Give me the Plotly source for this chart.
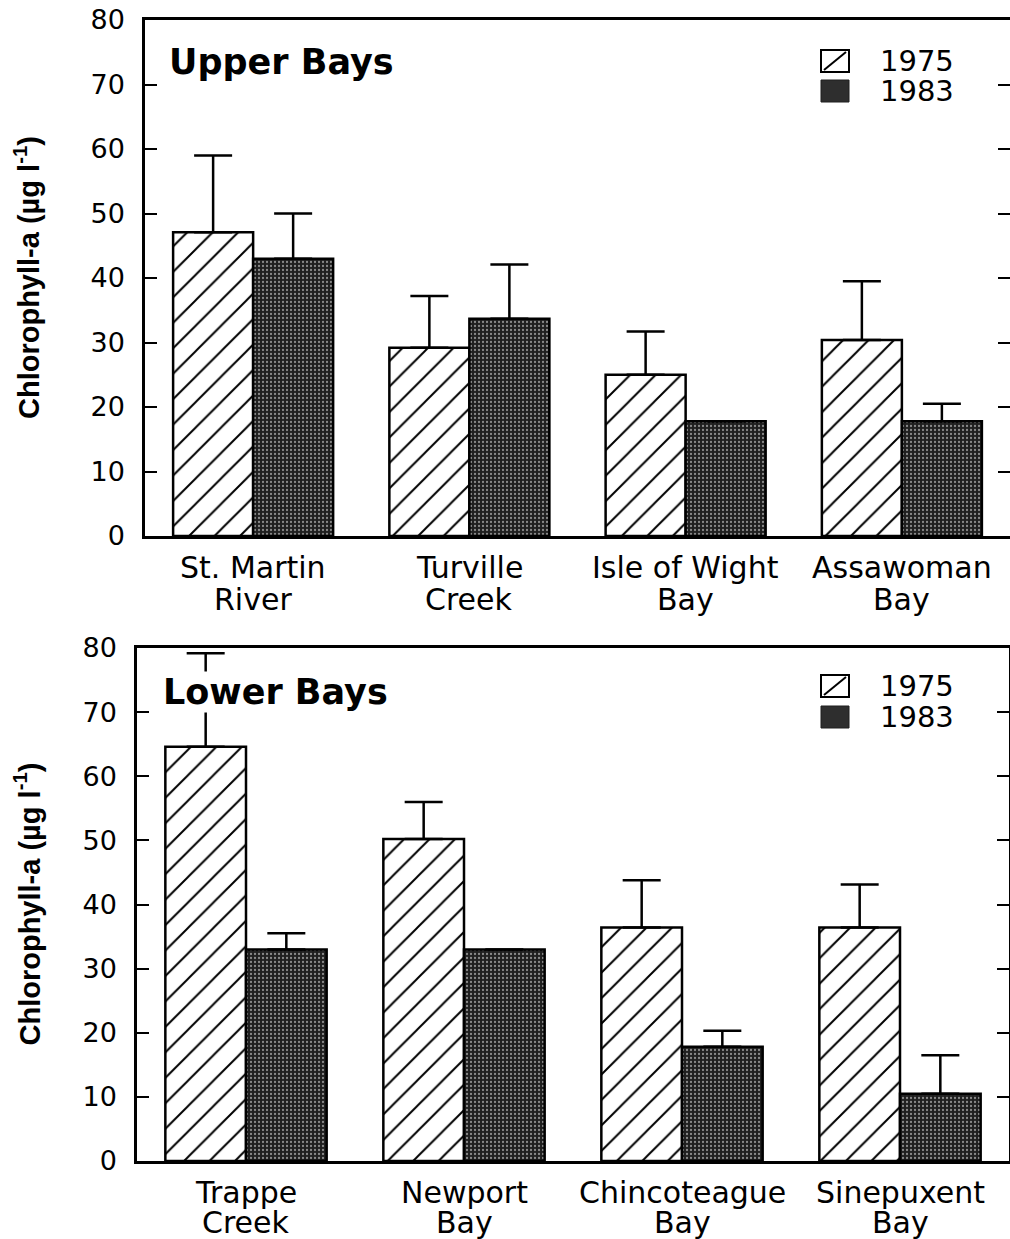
import plotly.graph_objects as go

W, H = 1010, 1239

# ---------------- data ----------------
upper_sites = ["St. Martin<br>River", "Turville<br>Creek", "Isle of Wight<br>Bay", "Assawoman<br>Bay"]
upper_1975 = [47.1, 29.2, 25.0, 30.4]
upper_1975_err = [11.9, 8.0, 6.7, 9.1]
upper_1983 = [43.0, 33.7, 17.8, 17.8]
upper_1983_err = [7.0, 8.4, 0.0, 2.7]

lower_sites = ["Trappe<br>Creek", "Newport<br>Bay", "Chincoteague<br>Bay", "Sinepuxent<br>Bay"]
lower_1975 = [64.6, 50.2, 36.4, 36.4]
lower_1975_err = [14.6, 5.8, 7.4, 6.7]
lower_1983 = [33.0, 33.0, 17.8, 10.5]
lower_1983_err = [2.5, 0.0, 2.5, 6.0]

years = ["1975", "1983"]
y_ticks = [0, 10, 20, 30, 40, 50, 60, 70, 80]
y_title = "Chlorophyll-a (µg l<sup>-1</sup>)"

FONT = "DejaVu Sans"


def px_x(x):
    return x / W


def px_y(y):
    return 1 - y / H


fig = go.Figure()

hatch = dict(shape="/", bgcolor="white", fgcolor="black", size=18, solidity=0.11, fillmode="replace")
stipple = dict(shape=".", bgcolor="#1f1f1f", fgcolor="#8a8a8a", size=4, solidity=0.25, fillmode="replace")


def add_pair(sites, v75, e75, v83, e83, xa, ya):
    fig.add_trace(go.Bar(
        x=sites, y=v75, name=years[0], xaxis=xa, yaxis=ya, showlegend=False,
        marker=dict(color="white", pattern=hatch, line=dict(color="black", width=2.5)),
        error_y=dict(type="data", symmetric=False, array=e75, arrayminus=[0] * len(e75),
                     color="black", thickness=2.5, width=19),
    ))
    fig.add_trace(go.Bar(
        x=sites, y=v83, name=years[1], xaxis=xa, yaxis=ya, showlegend=False,
        marker=dict(color="#1f1f1f", pattern=stipple, line=dict(color="black", width=2.5)),
        error_y=dict(type="data", symmetric=False, array=e83, arrayminus=[0] * len(e83),
                     color="black", thickness=2.5, width=19),
    ))


add_pair(upper_sites, upper_1975, upper_1975_err, upper_1983, upper_1983_err, "x", "y")
add_pair(lower_sites, lower_1975, lower_1975_err, lower_1983, lower_1983_err, "x2", "y2")

xcommon = dict(type="category", showline=True, linecolor="black", linewidth=2.5, mirror=True,
               ticks="", showgrid=False, zeroline=False, automargin=False,
               showticklabels=False)
ycommon = dict(range=[0, 80], tickvals=y_ticks, showline=True, linecolor="black", linewidth=2.5,
               mirror="ticks", ticks="inside", ticklen=12, tickwidth=2, tickcolor="black",
               showgrid=False, zeroline=False, automargin=False, ticklabeloverflow="allow",
               tickfont=dict(family=FONT, size=27, color="black"), ticklabelstandoff=12)

fig.update_layout(
    width=W, height=H,
    margin=dict(l=0, r=0, t=0, b=0, pad=0, autoexpand=False),
    paper_bgcolor="white", plot_bgcolor="white",
    barmode="group", bargap=0.26, bargroupgap=0,
    showlegend=False,
    xaxis=dict(domain=[px_x(145), 1.0], anchor="y", **xcommon),
    yaxis=dict(domain=[px_y(536), px_y(20)], anchor="x", **ycommon),
    xaxis2=dict(domain=[px_x(137), px_x(1009)], anchor="y2", **xcommon),
    yaxis2=dict(domain=[px_y(1161), px_y(648)], anchor="x2", **ycommon),
)

# category labels (two lines each, placed under each category)
label_rows = [("x", upper_sites, 567, 600), ("x2", lower_sites, 1192, 1222)]
for xref, sites, r1, r2 in label_rows:
    for s in sites:
        for line, row in zip(s.split("<br>"), (r1, r2)):
            fig.add_annotation(text=line, xref=xref, x=s, yref="paper", y=px_y(row),
                               xanchor="center", yanchor="middle", showarrow=False,
                               font=dict(family=FONT, size=30, color="black"))

# y-axis titles
for yref in ["y domain", "y2 domain"]:
    fig.add_annotation(text=y_title, xref="paper", x=px_x(27), yref=yref, y=0.5,
                       textangle=-90, showarrow=False, xanchor="center", yanchor="middle",
                       font=dict(family="Liberation Sans Narrow, Liberation Sans", size=29,
                                 color="black", weight="bold"))

# panel titles
fig.add_annotation(text="Upper Bays", xref="paper", yref="paper", x=px_x(167), y=px_y(62),
                   xanchor="left", yanchor="middle", showarrow=False,
                   font=dict(family=FONT, size=35, color="black", weight="bold"))
fig.add_annotation(text="Lower Bays", xref="paper", yref="paper", x=px_x(162), y=px_y(692),
                   xanchor="left", yanchor="middle", showarrow=False, bgcolor="white",
                   borderpad=0,
                   font=dict(family=FONT, size=35, color="black", weight="bold"))

# legends (drawn as key boxes + labels)
legend_rows = [(61, 91), (686, 717)]
for r75, r83 in legend_rows:
    bx0, bx1 = 821, 849
    fig.add_shape(type="rect", xref="paper", yref="paper",
                  x0=px_x(bx0), x1=px_x(bx1), y0=px_y(r75 + 11), y1=px_y(r75 - 11),
                  line=dict(color="black", width=2), fillcolor="white")
    fig.add_shape(type="line", xref="paper", yref="paper",
                  x0=px_x(bx0 + 3), x1=px_x(bx1 - 3), y0=px_y(r75 + 9), y1=px_y(r75 - 9),
                  line=dict(color="black", width=2))
    fig.add_shape(type="rect", xref="paper", yref="paper",
                  x0=px_x(bx0), x1=px_x(bx1), y0=px_y(r83 + 11), y1=px_y(r83 - 11),
                  line=dict(color="#1f1f1f", width=1), fillcolor="#2e2e2e")
    for yr, row in zip(years, (r75, r83)):
        fig.add_annotation(text=yr, xref="paper", yref="paper", x=px_x(878), y=px_y(row),
                           xanchor="left", yanchor="middle", showarrow=False,
                           font=dict(family=FONT, size=29, color="black"))

# remove the default page margin so the figure sits at the window's top-left corner
fig.write_html("out.html", config={"displayModeBar": False},
               post_script="document.body.style.margin='0px';document.body.style.overflow='hidden';")
